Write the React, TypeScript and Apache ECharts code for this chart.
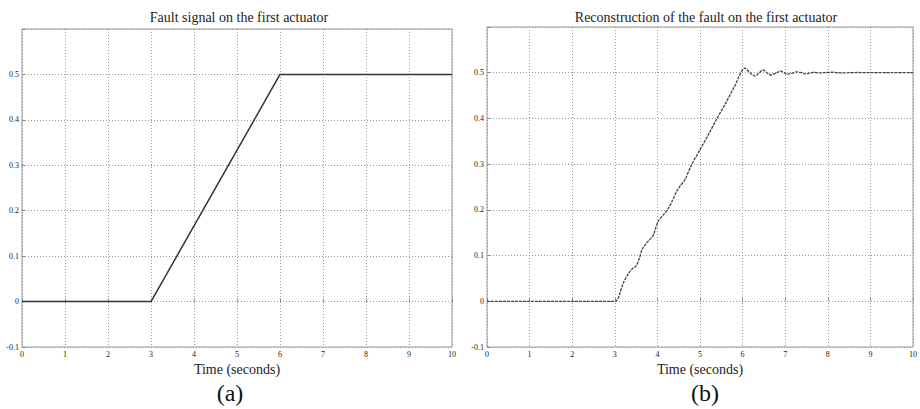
import React, { useEffect, useRef } from "react";
import * as echarts from "echarts";

const xTicks = [0, 1, 2, 3, 4, 5, 6, 7, 8, 9, 10];
const yTicks = [-0.1, 0, 0.1, 0.2, 0.3, 0.4, 0.5];

// (a) fault signal: [time, value]
const faultTime = [0, 3, 6, 10];
const faultValue = [0, 0, 0.5, 0.5];

// (b) reconstruction: [time, value]
const reconTime = [
  0, 1, 2, 3, 3.05, 3.1, 3.2, 3.33, 3.42, 3.5, 3.58, 3.64, 3.75, 3.85, 3.91, 4.02,
  4.15, 4.26, 4.36, 4.45, 4.55, 4.64, 4.8, 4.99, 5.2, 5.4, 5.6, 5.8, 6.06,
  6.18, 6.29, 6.38, 6.48, 6.57, 6.66, 6.78, 6.89, 6.97, 7.05, 7.17, 7.28, 7.38,
  7.47, 7.57, 7.67, 7.8, 7.9, 8.1, 8.3, 8.5, 8.7, 9.0, 9.5, 10,
];
const reconValue = [
  0, 0, 0, 0, 0.002, 0.012, 0.04, 0.062, 0.072, 0.077, 0.095, 0.113, 0.128, 0.138, 0.146, 0.175,
  0.19, 0.204, 0.222, 0.24, 0.254, 0.265, 0.298, 0.33, 0.365, 0.4, 0.433, 0.468, 0.51,
  0.499, 0.493, 0.499, 0.506, 0.5, 0.495, 0.499, 0.504, 0.5, 0.497, 0.499, 0.502, 0.5,
  0.4975, 0.499, 0.501, 0.4995, 0.5, 0.501, 0.4995, 0.5, 0.5005, 0.5, 0.5, 0.5,
];

const serif = "'Liberation Serif', 'DejaVu Serif', serif";

function makeAxes(gridIndex: number) {
  const x = {
    type: "value",
    gridIndex,
    min: xTicks[0],
    max: xTicks[xTicks.length - 1],
    interval: 1,
    name: "Time (seconds)",
    nameLocation: "middle",
    nameGap: 13,
    nameTextStyle: { fontFamily: serif, fontSize: 14, color: "#222" },
    axisLine: { show: false },
    axisTick: { show: true, inside: true, length: 3, lineStyle: { color: "#888" } },
    axisLabel: { fontFamily: serif, fontSize: 8, color: "#222", margin: 3 },
    splitLine: { show: true, lineStyle: { type: [1, 2], color: "#999", width: 1 } },
  };
  const y = {
    type: "value",
    gridIndex,
    min: yTicks[0],
    max: 0.6,
    interval: 0.1,
    axisLine: { show: false },
    axisTick: { show: true, inside: true, length: 3, lineStyle: { color: "#888" } },
    axisLabel: {
      fontFamily: serif,
      fontSize: 8,
      color: "#222",
      margin: 3,
      formatter: (v: number) => (v > 0.55 ? "" : String(+v.toFixed(1))),
    },
    splitLine: { show: true, lineStyle: { type: [1, 2], color: "#999", width: 1 } },
  };
  return { x, y };
}

export default function App() {
  const ref = useRef<HTMLDivElement>(null);
  useEffect(() => {
    if (!ref.current) return;
    const chart = echarts.init(ref.current, undefined, { renderer: "svg" });
    const a = makeAxes(0);
    const b = makeAxes(1);
    chart.setOption({
      animation: false,
      backgroundColor: "#fff",
      title: [
        {
          text: "Fault signal on the first actuator",
          left: 234,
          top: 5,
          textAlign: "center",
          textStyle: { fontFamily: serif, fontSize: 14, fontWeight: "normal", color: "#222" },
        },
        {
          text: "Reconstruction of the fault on the first actuator",
          left: 701,
          top: 5,
          textAlign: "center",
          textStyle: { fontFamily: serif, fontSize: 14, fontWeight: "normal", color: "#222" },
        },
      ],
      graphic: [
        {
          type: "text",
          x: 230,
          y: 393,
          style: {
            text: "(a)",
            font: `24px ${serif}`,
            fill: "#111",
            textAlign: "center",
            textVerticalAlign: "middle",
          },
        },
        {
          type: "text",
          x: 705,
          y: 393,
          style: {
            text: "(b)",
            font: `24px ${serif}`,
            fill: "#111",
            textAlign: "center",
            textVerticalAlign: "middle",
          },
        },
      ],
      grid: [
        { left: 22, right: 468, top: 29, bottom: 62, show: true, borderColor: "#999", borderWidth: 1, backgroundColor: "transparent" },
        { left: 487, right: 3, top: 27, bottom: 62, show: true, borderColor: "#999", borderWidth: 1, backgroundColor: "transparent" },
      ],
      xAxis: [a.x, b.x],
      yAxis: [a.y, b.y],
      series: [
        {
          type: "line",
          xAxisIndex: 0,
          yAxisIndex: 0,
          showSymbol: false,
          data: faultTime.map((t, i) => [t, faultValue[i]]),
          lineStyle: { color: "#333", width: 1.5 },
        },
        {
          type: "line",
          xAxisIndex: 1,
          yAxisIndex: 1,
          showSymbol: false,
          smooth: 0.3,
          data: reconTime.map((t, i) => [t, reconValue[i]]),
          lineStyle: { color: "#444", width: 1.3, type: [3, 1] },
        },
      ],
    });
    return () => chart.dispose();
  }, []);
  return <div ref={ref} style={{ width: 920, height: 409, position: "absolute", left: 0, top: 0 }} />;
}
